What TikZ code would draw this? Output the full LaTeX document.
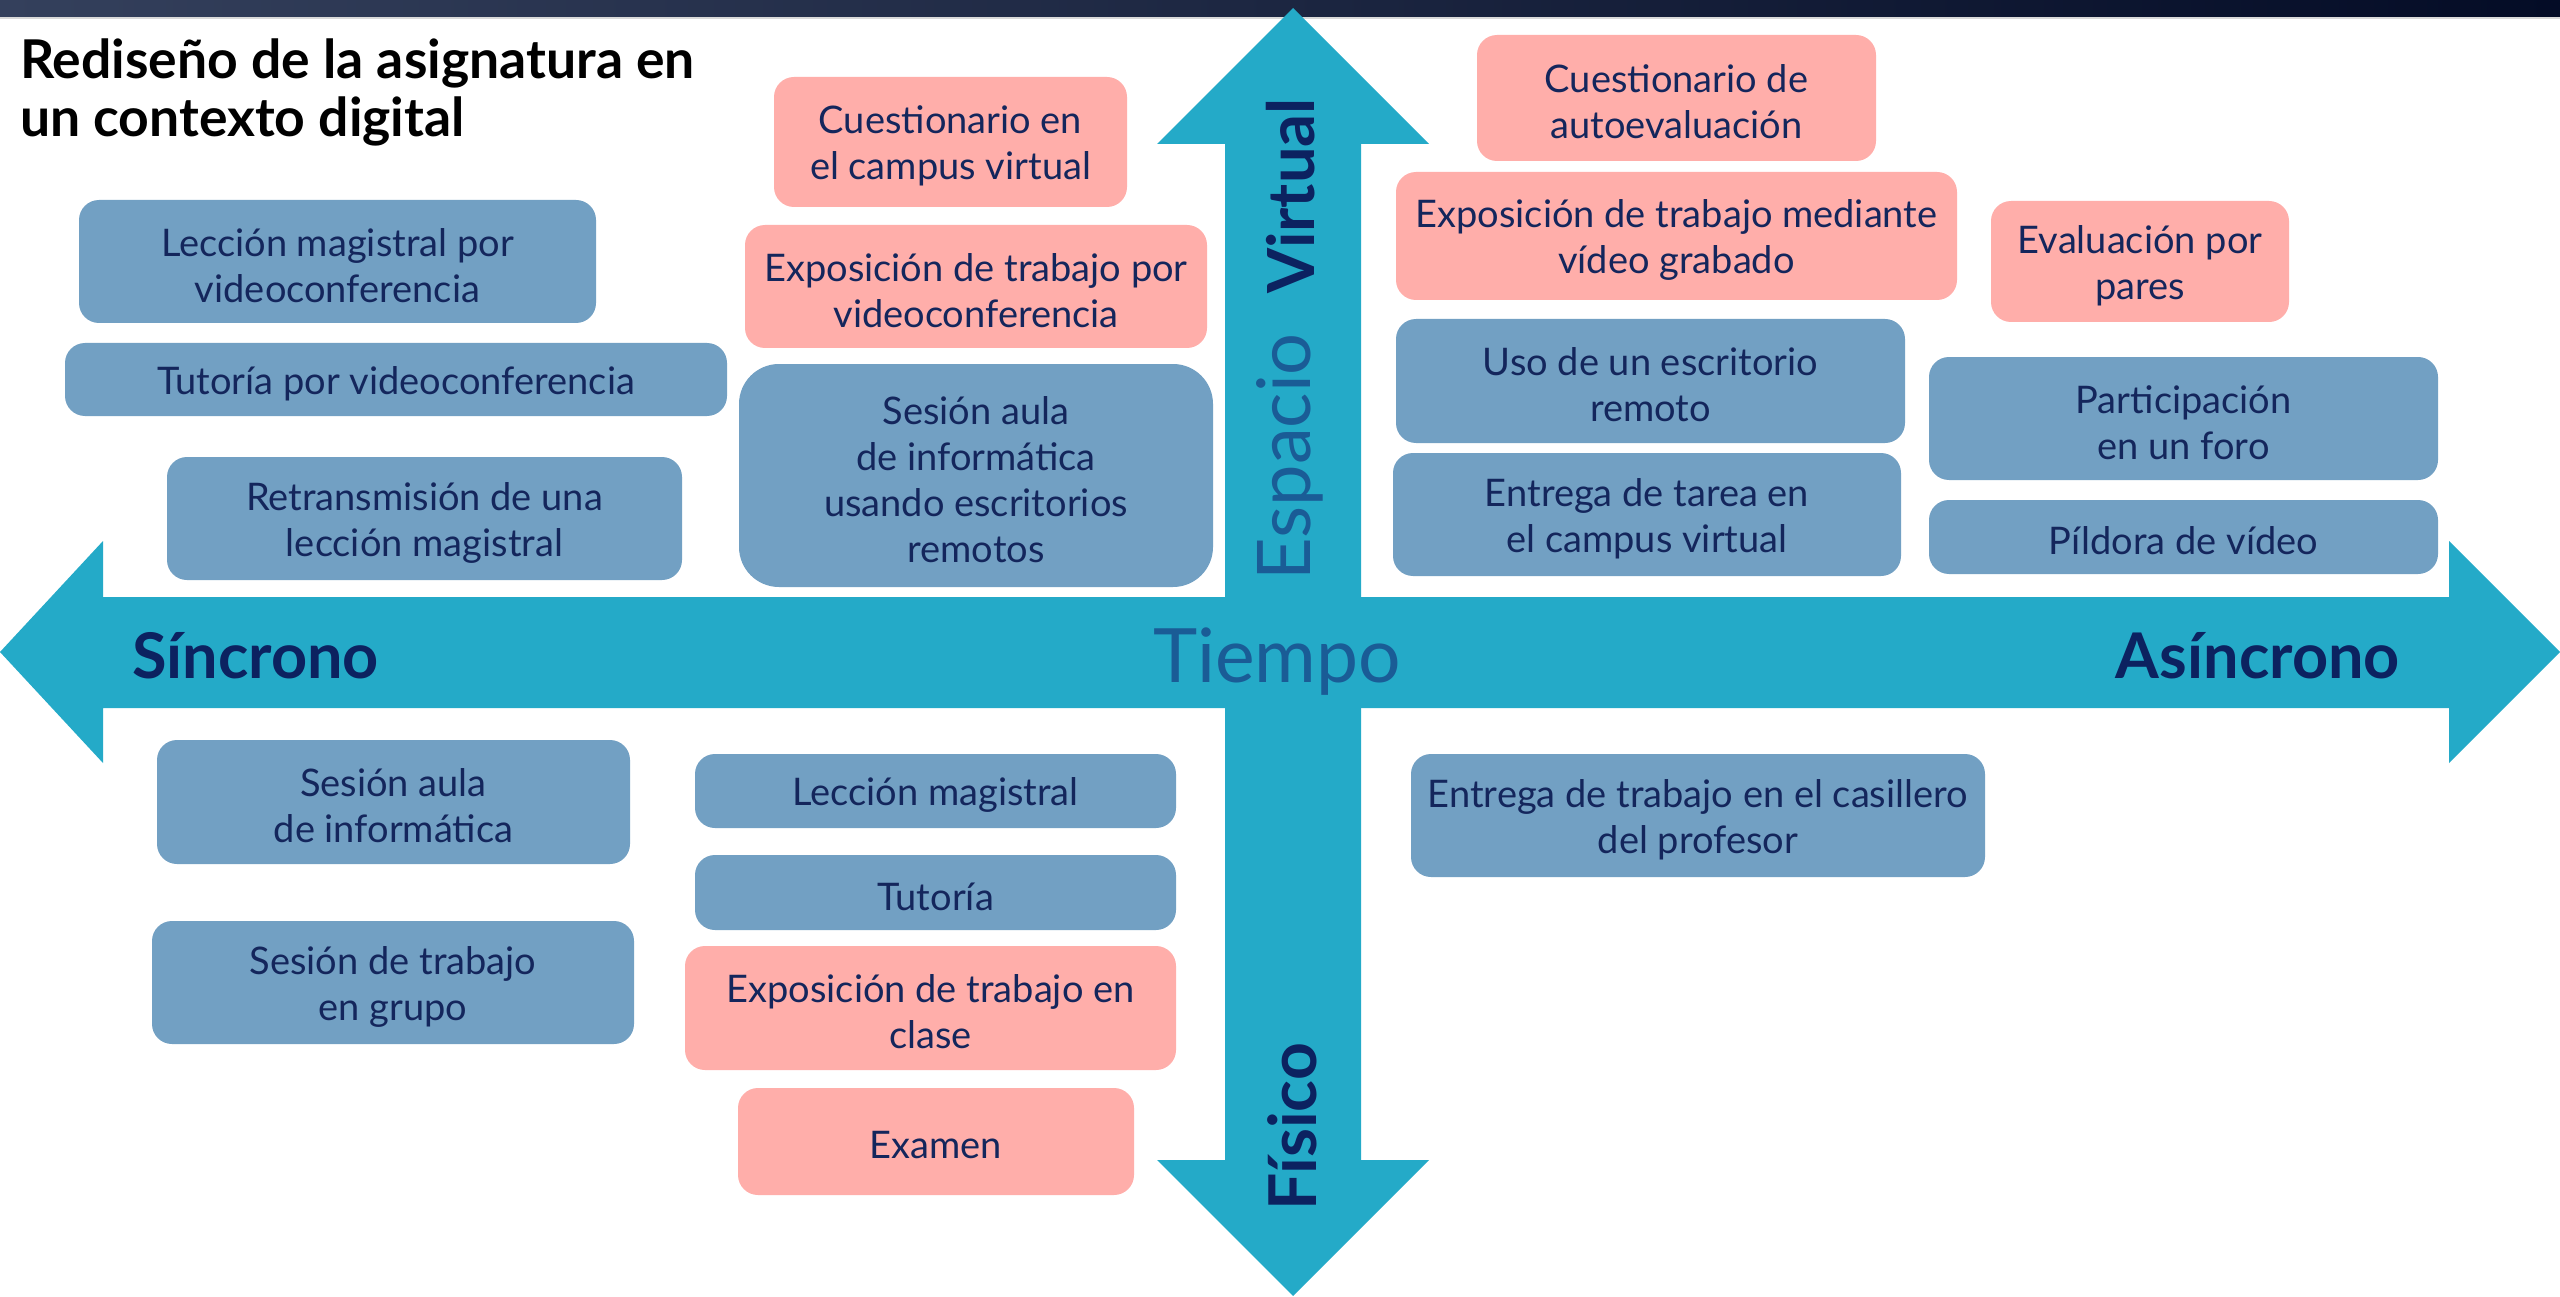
\documentclass[tikz,border=0pt]{standalone}
\usepackage{fontspec}
\setmainfont{Lato}
\definecolor{arrowc}{RGB}{36,170,200}
\definecolor{boxb}{RGB}{114,160,195}
\definecolor{boxp}{RGB}{255,174,170}
\definecolor{txt}{RGB}{20,38,92}
\definecolor{navy}{RGB}{12,34,96}
\definecolor{midb}{RGB}{26,92,150}
\definecolor{stripL}{RGB}{52,64,92}
\definecolor{stripM}{RGB}{42,58,88}
\definecolor{stripR}{RGB}{4,12,38}
\tikzset{
  boxtext/.style={inner sep=0pt, align=center, text=txt, yshift=-4pt,
    font=\fontsize{38}{46}\selectfont},
  box/.style={rounded corners=20pt, inner sep=0pt},
  bluebox/.style={box, fill=boxb},
  pinkbox/.style={box, fill=boxp},
  axislabel/.style={font=\fontsize{63}{70}\selectfont\bfseries, text=navy, inner sep=0pt},
  titletext/.style={anchor=base west, inner sep=0pt, font=\fontsize{53.5}{58}\selectfont\bfseries},
}
\begin{document}
\begin{tikzpicture}[x=1pt,y=-1pt]
\useasboundingbox (0,0) rectangle (2560,1297);
\fill[white] (0,0) rectangle (2560,1297);
% top strip
\shade[left color=stripL, middle color=stripM, right color=stripR] (0,0) rectangle (2560,17);
\fill[black!15] (0,17) rectangle (2560,19);
% horizontal arrow
\fill[arrowc] (0,652) -- (103,541) -- (103,597) -- (2449,597) -- (2449,541) -- (2560,652)
  -- (2449,763) -- (2449,708) -- (103,708) -- (103,763) -- cycle;
% vertical arrow
\fill[arrowc] (1293,8) -- (1429,144) -- (1361,144) -- (1361,1160) -- (1429,1160) -- (1293,1296)
  -- (1157,1160) -- (1225,1160) -- (1225,144) -- (1157,144) -- cycle;
% title
\node[titletext] (title1) at (20,79) {Rediseño de la asignatura en};
\node[titletext] (title2) at (20,137) {un contexto digital};
% axis labels
\node[axislabel, anchor=base west] (sinc) at (132,678) {Síncrono};
\node[axislabel, anchor=base east] (asinc) at (2400,678) {Asíncrono};
\node[inner sep=0pt, anchor=base, font=\fontsize{75}{80}\selectfont, text=midb] (tiempo) at (1277,682) {Tiempo};
\node[inner sep=0pt, anchor=base, rotate=90, font=\fontsize{65}{70}\selectfont\bfseries, text=navy] (virtual) at (1314,196) {Virtual};
\node[inner sep=0pt, anchor=base, rotate=90, font=\fontsize{74}{80}\selectfont, text=midb] (espacio) at (1310,457) {Espacio};
\node[inner sep=0pt, anchor=base, rotate=90, font=\fontsize{66}{70}\selectfont\bfseries, text=navy] (fisico) at (1316,1127) {Físico};
% upper left quadrant
\node[pinkbox, minimum width=353pt, minimum height=130pt, label={[boxtext]center:{Cuestionario en\\el campus virtual}}] (cqcv) at (950.5,142) {};
\node[bluebox, minimum width=517pt, minimum height=123pt, label={[boxtext]center:{Lección magistral por\\videoconferencia}}] (lmvc) at (337.5,261.5) {};
\node[pinkbox, minimum width=462pt, minimum height=123pt, label={[boxtext]center:{Exposición de trabajo por\\videoconferencia}}] (etvc) at (976,286.5) {};
\node[bluebox, minimum width=662pt, minimum height=73pt, label={[boxtext]center:{Tutoría por videoconferencia}}] (tutvc) at (396,379.5) {};
\node[bluebox, rounded corners=40pt, minimum width=474pt, minimum height=223pt, label={[boxtext]center:{Sesión aula\\de informática\\usando escritorios\\remotos}}] (sair) at (976,475.5) {};
\node[bluebox, minimum width=515pt, minimum height=123pt, label={[boxtext]center:{Retransmisión de una\\lección magistral}}] (retr) at (424.5,518.5) {};
% upper right quadrant
\node[pinkbox, minimum width=399pt, minimum height=126pt, label={[boxtext]center:{Cuestionario de\\autoevaluación}}] (cauto) at (1676.5,98) {};
\node[pinkbox, minimum width=561pt, minimum height=128pt, label={[boxtext]center:{Exposición de trabajo mediante\\vídeo grabado}}] (etvg) at (1676.5,236) {};
\node[pinkbox, minimum width=298pt, minimum height=121pt, label={[boxtext]center:{Evaluación por\\pares}}] (evpar) at (2140,261.5) {};
\node[bluebox, minimum width=509pt, minimum height=124pt, label={[boxtext]center:{Uso de un escritorio\\remoto}}] (usoer) at (1650.5,381) {};
\node[bluebox, minimum width=509pt, minimum height=123pt, label={[boxtext]center:{Participación\\en un foro}}] (partf) at (2183.5,418.5) {};
\node[bluebox, minimum width=508pt, minimum height=123pt, label={[boxtext]center:{Entrega de tarea en\\el campus virtual}}] (etcv) at (1647,514.5) {};
\node[bluebox, minimum width=509pt, minimum height=74pt, label={[boxtext]center:{Píldora de vídeo}}] (pild) at (2183.5,537) {};
% lower left quadrant
\node[bluebox, minimum width=473pt, minimum height=124pt, label={[boxtext]center:{Sesión aula\\de informática}}] (saif) at (393.5,802) {};
\node[bluebox, minimum width=481pt, minimum height=74pt, label={[boxtext]center:{Lección magistral}}] (lmag) at (935.5,791) {};
\node[bluebox, minimum width=481pt, minimum height=75pt, label={[boxtext]center:{Tutoría}}] (tut) at (935.5,892.5) {};
\node[bluebox, minimum width=482pt, minimum height=123pt, label={[boxtext]center:{Sesión de trabajo\\en grupo}}] (stg) at (393,982.5) {};
\node[pinkbox, minimum width=491pt, minimum height=124pt, label={[boxtext]center:{Exposición de trabajo en\\clase}}] (etcl) at (930.5,1008) {};
\node[pinkbox, minimum width=396pt, minimum height=107pt, label={[boxtext]center:{Examen}}] (exam) at (936,1141.5) {};
% lower right quadrant
\node[bluebox, minimum width=574pt, minimum height=123pt, label={[boxtext]center:{Entrega de trabajo en el casillero\\del profesor}}] (etcas) at (1698,815.5) {};
\end{tikzpicture}
\end{document}
